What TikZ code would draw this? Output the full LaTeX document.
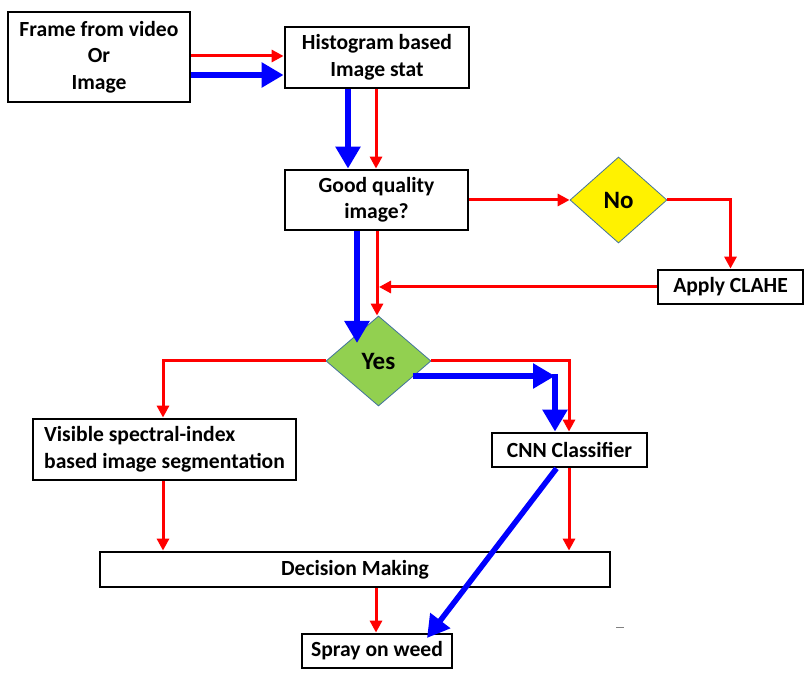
\documentclass[tikz,border=0pt]{standalone}
\usepackage{fontspec}
\setmainfont{Carlito}
\usetikzlibrary{arrows.meta,shapes.geometric,calc}
\definecolor{yesgreen}{HTML}{92D050}
\definecolor{dborder}{HTML}{41719C}
\begin{document}
\begin{tikzpicture}[x=1pt,y=-1pt,
  box/.style={draw=black,line width=2.8pt,fill=white,inner sep=0pt,
    font=\fontsize{21.6}{26.5}\selectfont\bfseries,align=center},
  dia/.style={diamond,draw=dborder,line width=0.8pt,inner sep=0pt,
    font=\fontsize{25}{28}\selectfont\bfseries},
  redarr/.style={draw=red,line width=3pt,-{Triangle[length=12pt,width=12pt]}},
  bluearr/.style={draw=blue,line width=5.5pt,line join=round,-{Triangle[length=22pt,width=24pt]}}]
\useasboundingbox (0,0) rectangle (812,676);
% nodes
\node[box,minimum width=182pt,minimum height=90pt] (frame) at (99,57) {Frame from video\\Or\\Image};
\node[box,minimum width=184pt,minimum height=61pt] (hist) at (377,57.5) {Histogram based\\Image stat};
\node[box,minimum width=183pt,minimum height=60pt] (good) at (376.5,200) {Good quality\\image?};
\node[dia,fill=yellow,minimum width=97pt,minimum height=86pt] (no) at (618.5,200) {No};
\node[box,minimum width=145pt,minimum height=34pt] (clahe) at (730.5,287) {Apply CLAHE};
\node[dia,fill=yesgreen,minimum width=105pt,minimum height=90pt] (yes) at (378.5,361) {Yes};
\node[box,minimum width=263pt,minimum height=61pt,align=left] (vis) at (164.5,449.5) {Visible spectral-index\\based image segmentation};
\node[box,minimum width=155pt,minimum height=34pt] (cnn) at (569.5,450) {CNN Classifier};
\node[box,minimum width=510pt,minimum height=35pt] (dec) at (355,569.5) {Decision Making};
\node[box,minimum width=150pt,minimum height=34pt] (spray) at (377,651) {Spray on weed};
% free-end coordinates
\coordinate (fr1) at (frame.east |- 0,56);
\coordinate (fb1) at (frame.east |- 0,75);
\coordinate (yb) at (413,376);
\coordinate (corner) at (555,376);
\coordinate (yesin) at (357,343);
\coordinate (clahein) at (379,287);
\coordinate (cnnb) at ($(cnn.south)+(-13,0)$);
\coordinate (sprayin) at (427,638);
% red connectors
\draw[redarr] (fr1) -- (fr1 -| hist.west);
\draw[redarr] (hist.south -| 376,0) -- (good.north -| 376,0);
\draw[redarr] (good.east |- no.west) -- (no.west);
\draw[redarr] (no.east) -| (clahe.north);
\draw[redarr] (clahe.west) -- (clahein);
\draw[redarr] (good.south -| 377,0) -- (yes.north -| 377,0);
\draw[redarr] (yes.west) -| (vis.north -| 163,0);
\draw[redarr] (yes.east) -| (cnn.north -| 569,0);
\draw[redarr] (vis.south -| 163,0) -- (dec.north -| 163,0);
\draw[redarr] (cnn.south -| 569,0) -- (dec.north -| 569,0);
\draw[redarr] (dec.south -| 376,0) -- (spray.north -| 376,0);
% blue connectors
\draw[bluearr] (fb1) -- (fb1 -| hist.west);
\draw[bluearr] (hist.south -| 348,0) -- (good.north -| 348,0);
\draw[bluearr] (good.south -| 357,0) -- (yesin);
\draw[bluearr] (yb) -- (corner);
\draw[bluearr] ($(corner)+(0,-2)$) -- (cnn.north -| corner);
\draw[bluearr] (cnnb) -- (sprayin);
% tiny mark
\draw[gray,line width=0.8pt] (616,627) -- (624,627);
\end{tikzpicture}
\end{document}
